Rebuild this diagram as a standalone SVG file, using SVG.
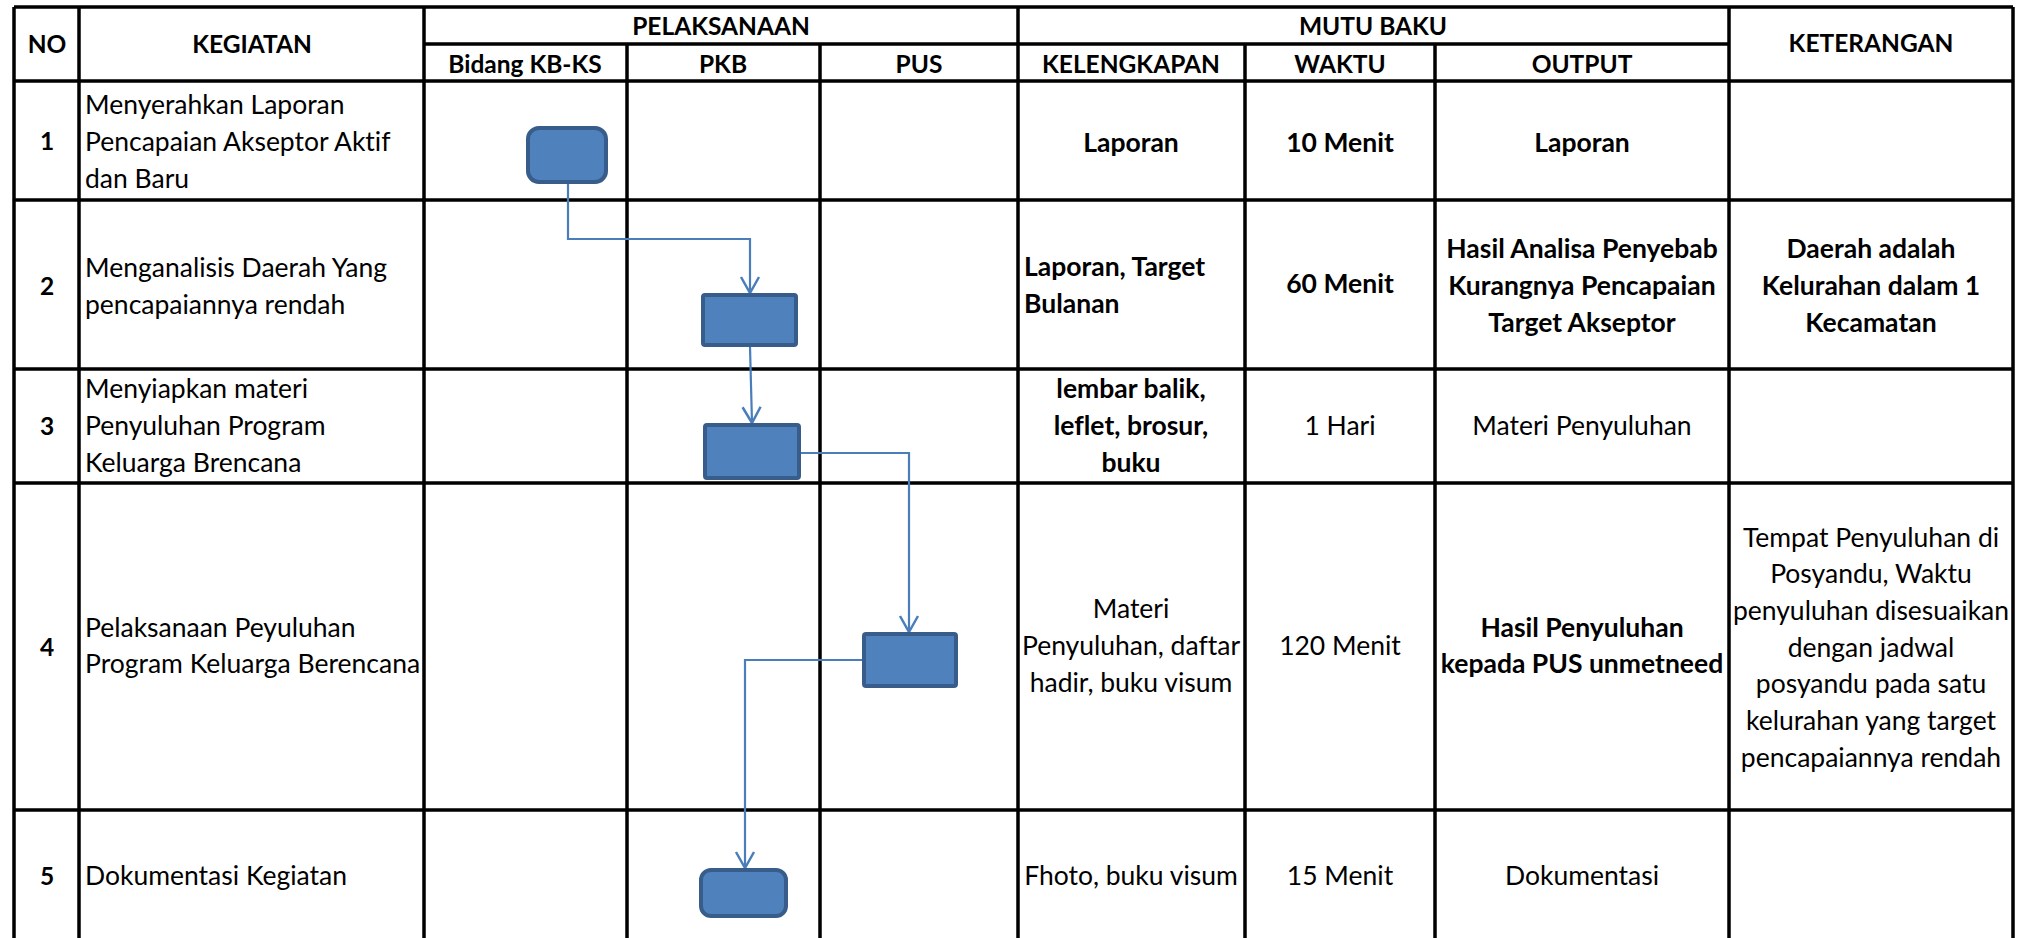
<svg xmlns="http://www.w3.org/2000/svg" width="2023" height="938" viewBox="0 0 2023 938">
<style>
.g{stroke:#000;stroke-width:3.5;fill:none}
.t{font-family:Lato,"Liberation Sans",sans-serif;font-size:26.5px;fill:#000;font-variant-ligatures:none;font-feature-settings:"liga" 0,"dlig" 0}
.h{font-size:24.5px}
.b{font-weight:bold}
.c{text-anchor:middle}
.box{fill:#4F81BD;stroke:#385D8A;stroke-width:4}
.cn{fill:none;stroke:#4A7EBB;stroke-width:2.2}
</style>
<defs>
<marker id="arr" markerUnits="userSpaceOnUse" orient="auto" overflow="visible" markerWidth="1" markerHeight="1" refX="0" refY="0">
<path d="M-16,-9 L0,0 L-16,9" fill="none" stroke="#4A7EBB" stroke-width="2.5"/>
</marker>
</defs>
<rect width="2023" height="938" fill="#fff"/>
<g id="grid">
<path class="g" d="M14,7H2013M424,44H1729M14,81H2013M14,200H2013M14,369H2013M14,483H2013M14,810H2013"/>
<path class="g" d="M14,7V938M79,7V938M424,7V938M1018,7V938M1729,7V938M2013,7V938M627,44V938M820,44V938M1245,44V938M1435,44V938"/>
</g>
<g id="header" class="t h b">
<text class="c" x="47" y="53">NO</text>
<text class="c" x="252" y="53">KEGIATAN</text>
<text class="c" x="721" y="35">PELAKSANAAN</text>
<text class="c" x="1373" y="35">MUTU BAKU</text>
<text class="c" x="1871" y="52">KETERANGAN</text>
<text class="c" x="525" y="73">Bidang KB-KS</text>
<text class="c" x="723" y="73">PKB</text>
<text class="c" x="919" y="73">PUS</text>
<text class="c" x="1131" y="73">KELENGKAPAN</text>
<text class="c" x="1340" y="73">WAKTU</text>
<text class="c" x="1582" y="73">OUTPUT</text>
</g>
<g id="row1" class="t">
<text class="c b h" x="47" y="150">1</text>
<text x="85" y="114">Menyerahkan Laporan</text>
<text x="85" y="151">Pencapaian Akseptor Aktif</text>
<text x="85" y="188">dan Baru</text>
<text class="c b" x="1131" y="152">Laporan</text>
<text class="c b" x="1340" y="152">10 Menit</text>
<text class="c b" x="1582" y="152">Laporan</text>
</g>
<g id="row2" class="t">
<text class="c b h" x="47" y="295">2</text>
<text x="85" y="277">Menganalisis Daerah Yang</text>
<text x="85" y="314">pencapaiannya rendah</text>
<text class="b" x="1024" y="276">Laporan, Target</text>
<text class="b" x="1024" y="313">Bulanan</text>
<text class="c b" x="1340" y="293">60 Menit</text>
<text class="c b" x="1582" y="258">Hasil Analisa Penyebab</text>
<text class="c b" x="1582" y="295">Kurangnya Pencapaian</text>
<text class="c b" x="1582" y="332">Target Akseptor</text>
<text class="c b" x="1871" y="258">Daerah adalah</text>
<text class="c b" x="1871" y="295">Kelurahan dalam 1</text>
<text class="c b" x="1871" y="332">Kecamatan</text>
</g>
<g id="row3" class="t">
<text class="c b h" x="47" y="435">3</text>
<text x="85" y="398">Menyiapkan materi</text>
<text x="85" y="435">Penyuluhan Program</text>
<text x="85" y="472">Keluarga Brencana</text>
<text class="c b" x="1131" y="398">lembar balik,</text>
<text class="c b" x="1131" y="435">leflet, brosur,</text>
<text class="c b" x="1131" y="472">buku</text>
<text class="c" x="1340" y="435">1 Hari</text>
<text class="c" x="1582" y="435">Materi Penyuluhan</text>
</g>
<g id="row4" class="t">
<text class="c b h" x="47" y="656">4</text>
<text x="85" y="637">Pelaksanaan Peyuluhan</text>
<text x="85" y="673">Program Keluarga Berencana</text>
<text class="c" x="1131" y="618">Materi</text>
<text class="c" x="1131" y="655">Penyuluhan, daftar</text>
<text class="c" x="1131" y="692">hadir, buku visum</text>
<text class="c" x="1340" y="655">120 Menit</text>
<text class="c b" x="1582" y="637">Hasil Penyuluhan</text>
<text class="c b" x="1582" y="673">kepada PUS unmetneed</text>
<text class="c" x="1871" y="547">Tempat Penyuluhan di</text>
<text class="c" x="1871" y="583">Posyandu, Waktu</text>
<text class="c" x="1871" y="620">penyuluhan disesuaikan</text>
<text class="c" x="1871" y="657">dengan jadwal</text>
<text class="c" x="1871" y="693">posyandu pada satu</text>
<text class="c" x="1871" y="730">kelurahan yang target</text>
<text class="c" x="1871" y="767">pencapaiannya rendah</text>
</g>
<g id="row5" class="t">
<text class="c b h" x="47" y="885">5</text>
<text x="85" y="885">Dokumentasi Kegiatan</text>
<text class="c" x="1131" y="885">Fhoto, buku visum</text>
<text class="c" x="1340" y="885">15 Menit</text>
<text class="c" x="1582" y="885">Dokumentasi</text>
</g>
<g id="connectors">
<path class="cn" d="M568,184V239H750V293" marker-end="url(#arr)"/>
<path class="cn" d="M750,347L752,423" marker-end="url(#arr)"/>
<path class="cn" d="M801,453H909V632" marker-end="url(#arr)"/>
<path class="cn" d="M862,660H745V868" marker-end="url(#arr)"/>
</g>
<g id="node1"><rect class="box" x="528" y="128" width="78" height="54" rx="11"/></g>
<g id="node2"><rect class="box" x="703" y="295" width="93" height="50" rx="2"/></g>
<g id="node3"><rect class="box" x="705" y="425" width="94" height="53" rx="2"/></g>
<g id="node4"><rect class="box" x="864" y="634" width="92" height="52" rx="2"/></g>
<g id="node5"><rect class="box" x="701" y="870" width="85" height="46" rx="10"/></g>
</svg>
